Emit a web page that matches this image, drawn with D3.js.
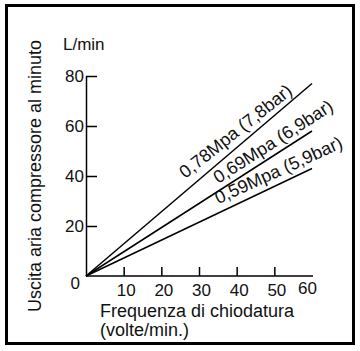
<!DOCTYPE html>
<html>
<head>
<meta charset="utf-8">
<script src="https://cdn.jsdelivr.net/npm/d3@7"></script>
<style>
  body { margin: 0; background: #fff; }
  svg { display: block; font-family: "Liberation Sans", Arial, Helvetica, sans-serif; }
</style>
</head>
<body>
<div id="chart"></div>
<script>
// frequenza di chiodatura (volte/min.)
const frequencies = [0, 60];
// uscita aria (L/min) per pressione
const flow078 = [0, 77];
const flow069 = [0, 58];
const flow059 = [0, 43];
const seriesNames = ["0,78Mpa (7,8bar)", "0,69Mpa (6,9bar)", "0,59Mpa (5,9bar)"];
const xTicks = [10, 20, 30, 40, 50, 60];
const yTicks = [0, 20, 40, 60, 80];

const W = 360, H = 351;
const svg = d3.select("#chart").append("svg")
    .attr("width", W)
    .attr("height", H);

// outer frame
svg.append("rect")
    .attr("x", 6.5).attr("y", 5.5)
    .attr("width", 347).attr("height", 338)
    .attr("fill", "none")
    .attr("stroke", "#000")
    .attr("stroke-width", 3);

const x = d3.scaleLinear().domain([0, 60]).range([86, 312]);
const y = d3.scaleLinear().domain([0, 80]).range([276, 76]);

// y axis, ticks pointing inward
const yAxis = svg.append("g")
    .attr("transform", `translate(${x(0)},0)`)
    .call(d3.axisRight(y).tickValues(yTicks).tickSize(11).tickSizeOuter(0));
yAxis.select(".domain").attr("stroke-width", 1.5);
yAxis.selectAll(".tick line").attr("stroke-width", 1.5);
yAxis.selectAll(".tick text")
    .attr("x", -2)
    .attr("text-anchor", "end")
    .attr("font-size", 17)
    .attr("fill", "#111")
    .attr("dx", d => d === 0 ? -4 : 0)
    .attr("dy", d => d === 0 ? "0.75em" : "0.35em");
yAxis.selectAll(".tick").filter(d => d === 0).select("line").remove();

// x axis, ticks pointing up
const xAxis = svg.append("g")
    .attr("transform", `translate(0,${y(0)})`)
    .call(d3.axisTop(x).tickValues(xTicks).tickSize(9).tickSizeOuter(0));
xAxis.select(".domain").attr("d", `M${x(0)},0H${x(60) + 1}`).attr("stroke-width", 1.5);
xAxis.selectAll(".tick line").attr("stroke-width", 1.5);
xAxis.selectAll(".tick").filter(d => d === 60).select("line").remove();
xAxis.selectAll(".tick text")
    .attr("y", 20)
    .attr("dy", 0)
    .attr("font-size", 17)
    .attr("fill", "#111")
    .attr("dx", d => d === 60 ? -5 : 2)
    .attr("transform", d => d === 60 ? "translate(0,-2)" : null);

// lines
const series = [flow078, flow069, flow059];
const line = d3.line()
    .x((d, i) => x(frequencies[i]))
    .y(d => y(d));

svg.append("g")
    .selectAll("path")
    .data(series)
    .join("path")
    .attr("d", line)
    .attr("fill", "none")
    .attr("stroke", "#000")
    .attr("stroke-width", 1.5);

// labels along lines
const labelAt = [28, 36, 36];
const labelGap = [9.5, 6, 8];
const labelTilt = [2, 0, 1]; // text slightly flatter than its line
series.forEach((s, i) => {
    const slope = (s[1] - s[0]) / (frequencies[1] - frequencies[0]);
    const px = x(labelAt[i]);
    const py = y(slope * labelAt[i]);
    const ang = Math.atan2(y(s[0]) - y(s[1]), x(frequencies[1]) - x(frequencies[0]));
    const bx = px - Math.sin(ang) * labelGap[i];
    const by = py - Math.cos(ang) * labelGap[i];
    svg.append("text")
        .attr("transform", `translate(${bx},${by}) rotate(${-ang * 180 / Math.PI + labelTilt[i]})`)
        .attr("font-size", 18)
        .attr("fill", "#111")
        .text(seriesNames[i]);
});

// axis titles
svg.append("text")
    .attr("x", 63).attr("y", 50)
    .attr("font-size", 17)
    .attr("fill", "#111")
    .text("L/min");

svg.append("text")
    .attr("transform", "translate(41,176) rotate(-90)")
    .attr("text-anchor", "middle")
    .attr("font-size", 18)
    .attr("fill", "#111")
    .text("Uscita aria compressore al minuto");

svg.append("text")
    .attr("x", 100).attr("y", 317)
    .attr("font-size", 18)
    .attr("fill", "#111")
    .text("Frequenza di chiodatura");

svg.append("text")
    .attr("x", 100).attr("y", 336)
    .attr("font-size", 18)
    .attr("fill", "#111")
    .text("(volte/min.)");
</script>
</body>
</html>
